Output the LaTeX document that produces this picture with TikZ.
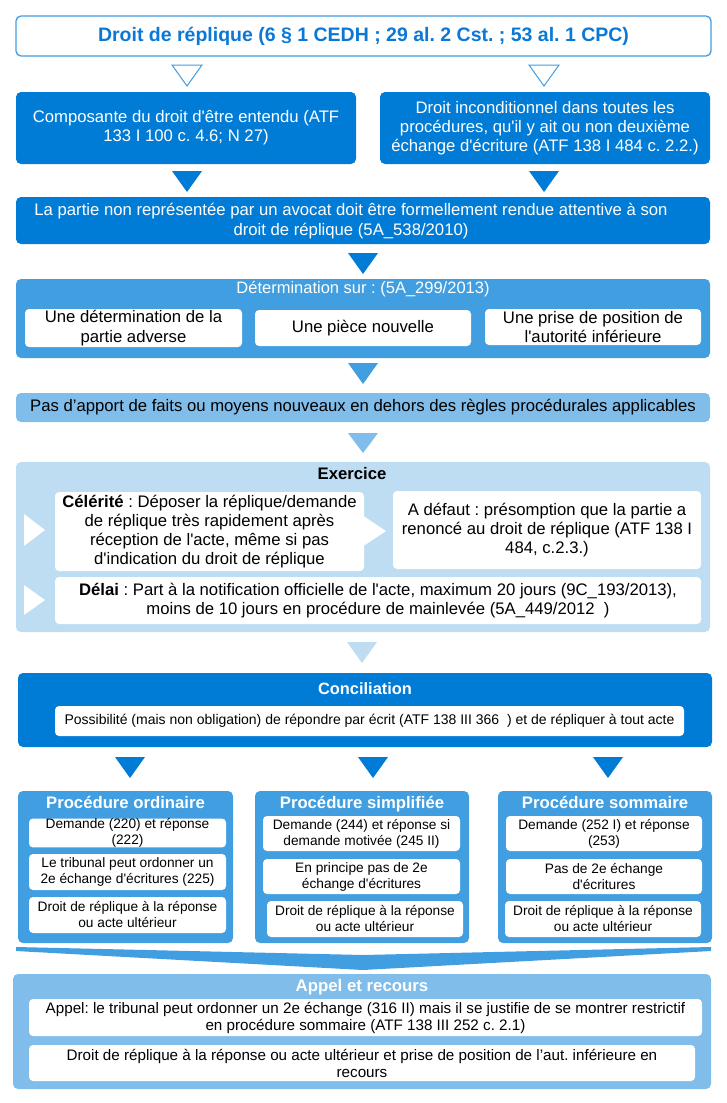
\documentclass[tikz,border=0pt]{standalone}
\usepackage{fontspec}
\setmainfont{Liberation Sans}[Ligatures=TeXOff]
\definecolor{dblue}{RGB}{1,124,214}
\definecolor{mblue}{RGB}{65,158,224}
\definecolor{lblue}{RGB}{128,189,234}
\definecolor{vlblue}{RGB}{190,221,242}
\definecolor{tblue}{RGB}{10,120,214}
\newcommand\fs[2]{\fontsize{#1}{#2}\selectfont}
% box from corner (x1,y1) to corner (x2,y2), y measured downwards
\newcommand\bx[7][]{%
  \node[#1, minimum width={(#5-#3)*1pt}, minimum height={(#6-#4)*1pt}]
    (#2) at ({(#3+#5)/2},{(#4+#6)/2}) {#7};}
% downward triangle centred at x, from y1 to y2
\newcommand\tri[4]{\path[#1] (#2-15,#3) -- (#2+15,#3) -- (#2,#4) -- cycle;}
\tikzset{
  box/.style={rounded corners=5pt, inner sep=0pt, align=center, font=\fs{16.7}{19.2}},
  dark/.style={box, fill=dblue, text=white},
  mid/.style={box, fill=mblue, text=white},
  light/.style={box, fill=lblue, text=black},
  pale/.style={box, fill=vlblue},
  card/.style={box, fill=white, text=black, rounded corners=4pt},
  small/.style={card, font=\fs{13.7}{16}},
  title/.style={inner sep=0pt, align=center, text height=12pt, text depth=3.5pt,
    font=\bfseries\fs{16.7}{19}},
}
\frenchspacing
\begin{document}
\frenchspacing
\begin{tikzpicture}[x=1pt, y=-1pt]
\fill[white] (0,0) rectangle (726,1103);
\useasboundingbox (0,0) rectangle (726,1103);

% heading
\bx[box, fill=white, draw=mblue, line width=1.3pt, text=tblue, font=\bfseries\fs{19.5}{22}]{head}{16}{16}{711}{56}
  {Droit de réplique (6 § 1 CEDH ; 29 al. 2 Cst. ; 53 al. 1 CPC)}
\tri{draw=mblue, fill=white, line width=1pt}{187}{65}{86}
\tri{draw=mblue, fill=white, line width=1pt}{544}{65}{86}

% two foundations
\bx[dark]{comp}{16}{92}{356}{164}{Composante du droit d'être entendu (ATF\\133 I 100 c. 4.6; N 27)}
\bx[dark]{incond}{380}{92}{710}{164}{Droit inconditionnel dans toutes les\\procédures, qu'il y ait ou non deuxième\\échange d'écriture (ATF 138 I 484 c. 2.2.)}
\tri{fill=dblue}{187}{171}{192}
\tri{fill=dblue}{544}{171}{192}

\bx[dark]{partie}{16}{197}{710}{244}{}
\node[inner sep=0pt, align=center, text=white, font=\fs{16.7}{19.2}] (partietxt) at (351,221)
  {La partie non représentée par un avocat doit être formellement rendue attentive à son\\droit de réplique (5A\_538/2010)};
\tri{fill=dblue}{363}{253}{274}

% determination
\bx[mid]{determ}{16}{279}{710}{358}{}
\node[title, font=\fs{16.5}{19}, text=white] (determt) at (363,289) {Détermination sur : (5A\_299/2013)};
\bx[card]{det1}{25}{309}{242}{347}{Une détermination de la\\partie adverse}
\bx[card]{det2}{255}{310}{471}{346}{Une pièce nouvelle}
\bx[card]{det3}{485}{309}{701}{345}{Une prise de position de\\l'autorité inférieure}
\tri{fill=mblue}{363}{363}{384}

\bx[light]{apport}{16}{393}{710}{422}{Pas d’apport de faits ou moyens nouveaux en dehors des règles procédurales applicables}
\tri{fill=lblue}{363}{433}{453}

% exercise of the right
\bx[pale]{exer}{16}{462}{710}{632}{}
\node[title, text=black] (exert) at (352,475) {Exercice};
\fill[white] (24,514) -- (45,530) -- (24,546) -- cycle;
\fill[white] (24,585) -- (45,600) -- (24,615) -- cycle;
\fill[white] (362,515) -- (386,531) -- (362,547) -- cycle;
\bx[card]{celer}{55}{492}{364}{571}{\textbf{Célérité} : Déposer la réplique/demande\\de réplique très rapidement après\\réception de l'acte, même si pas\\d'indication du droit de réplique}
\bx[card]{defaut}{393}{491}{701}{569}{A défaut : présomption que la partie a\\renoncé au droit de réplique (ATF 138 I\\484, c.2.3.)}
\bx[card]{delai}{55}{577}{701}{624}{\textbf{Délai} : Part à la notification officielle de l'acte, maximum 20 jours (9C\_193/2013),\\moins de 10 jours en procédure de mainlevée (5A\_449/2012\ \ )}
\tri{fill=vlblue}{362}{642}{663}

% conciliation
\bx[dark]{concil}{18}{673}{712}{747}{}
\node[title, text=white, font=\bfseries\fs{16.4}{20}] (concilt) at (365,690) {Conciliation};
\bx[card, font=\fs{14}{16}]{possib}{55}{706}{684}{736}{Possibilité (mais non obligation) de répondre par écrit (ATF 138 III 366\ \ ) et de répliquer à tout acte}
\tri{fill=dblue}{130}{757}{778}
\tri{fill=dblue}{373}{757}{778}
\tri{fill=dblue}{608}{757}{778}

% the three procedures
\bx[mid]{ord}{18}{791}{233}{943}{}
\bx[mid]{simp}{255}{791}{469}{943}{}
\bx[mid]{somm}{498}{791}{712}{943}{}
\node[title, text=white] (ordt) at (125.5,804) {Procédure ordinaire};
\node[title, text=white] (simpt) at (362,804) {Procédure simplifiée};
\node[title, text=white] (sommt) at (605,804) {Procédure sommaire};

\bx[small]{ord1}{29}{819}{226}{847}{Demande (220) et réponse\\(222)}
\bx[small]{ord2}{29}{854}{226}{890}{Le tribunal peut ordonner un\\2e échange d'écritures (225)}
\bx[small]{ord3}{29}{897}{226}{933}{Droit de réplique à la réponse\\ou acte ultérieur}
\bx[small]{simp1}{263}{816}{460}{851}{Demande (244) et réponse si\\demande motivée (245 II)}
\bx[small]{simp2}{263}{859}{460}{894}{En principe pas de 2e\\échange d'écritures}
\bx[small]{simp3}{267}{901}{463}{937}{Droit de réplique à la réponse\\ou acte ultérieur}
\bx[small]{somm1}{506}{816}{702}{851}{Demande (252 I) et réponse\\(253)}
\bx[small]{somm2}{506}{859}{702}{894}{Pas de 2e échange\\d'écritures}
\bx[small]{somm3}{505}{901}{701}{937}{Droit de réplique à la réponse\\ou acte ultérieur}

% merging chevron
\fill[mblue] (16,947) -- (363,955) -- (711,947) -- (711,951) -- (363,970) -- (16,951) -- cycle;

% appeal
\bx[light]{appel}{13}{974}{711}{1089}{}
\node[title, text=white, font=\bfseries\fs{16.8}{20}] (appelt) at (362,987) {Appel et recours};
\bx[card, font=\fs{15.2}{17}]{app1}{29}{999}{702}{1036}{Appel: le tribunal peut ordonner un 2e échange (316 II) mais il se justifie de se montrer restrictif\\en procédure sommaire (ATF 138 III 252 c. 2.1)}
\bx[card, font=\fs{15.2}{17}]{app2}{29}{1045}{695}{1081}{Droit de réplique à la réponse ou acte ultérieur et prise de position de l’aut. inférieure en\\recours}
\end{tikzpicture}
\end{document}
